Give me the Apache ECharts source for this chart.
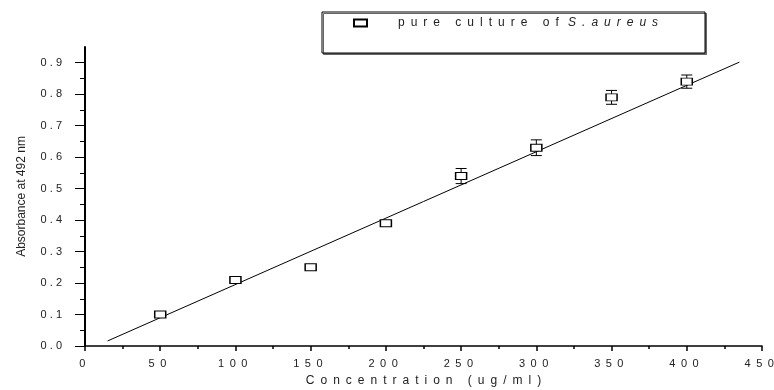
<!DOCTYPE html>
<html><head><meta charset="utf-8">
<script src="https://cdn.jsdelivr.net/npm/echarts@6/dist/echarts.min.js"></script>
<style>html,body{margin:0;padding:0;background:#fff}#c{width:774px;height:390px}</style>
</head><body><div id="c"></div>
<script>
const concentrations = [50, 100, 150, 200, 250, 300, 350, 400];
const absorbance = [0.10, 0.21, 0.25, 0.39, 0.54, 0.63, 0.79, 0.84];
const errors = [0.004, 0.005, 0.004, 0.008, 0.024, 0.025, 0.022, 0.021];
const fitX = [15, 435];
const fitY = [0.016, 0.902];
const xTicks = [0, 50, 100, 150, 200, 250, 300, 350, 400, 450];
const yTicks = [0, 0.1, 0.2, 0.3, 0.4, 0.5, 0.6, 0.7, 0.8, 0.9];
const legendPlain = 'pure culture of ';
const legendItalic = 'S.aureus';
const legendName = legendPlain + legendItalic;
const xName = 'Concentration (ug/ml)';
const yName = 'Absorbance at 492 nm';

const EN = '\u2002';
function spaced(s, sep) { return s.split('').join(sep || ' '); }
const FONT = 'Liberation Sans, Arial, sans-serif';
const TXT = '#222';

const chart = echarts.init(document.getElementById('c'));
chart.setOption({
  animation: false,
  backgroundColor: '#fff',
  textStyle: { fontFamily: FONT },
  grid: { left: 85, right: 12, top: 47, bottom: 44, containLabel: false, outerBoundsMode: 'none' },
  graphic: [{
    type: 'rect', z: 0,
    shape: { x: 322, y: 12, width: 383, height: 41 },
    style: { fill: '#fff', stroke: '#000', lineWidth: 1, shadowColor: '#666', shadowOffsetX: 1.5, shadowOffsetY: 1.5, shadowBlur: 0 }
  }],
  legend: {
    left: 353, top: 17, itemWidth: 13, itemHeight: 7, padding: 0,
    data: [{ name: legendName, icon: 'rect' }],
    formatter: () => '{n|' + spaced(legendPlain, EN) + '}{i|' + spaced(legendItalic, EN) + '}',
    textStyle: {
      fontFamily: FONT, fontSize: 12, color: TXT,
      rich: {
        n: { fontFamily: FONT, fontSize: 12, color: TXT, padding: [0, 0, 0, 26] },
        i: { fontFamily: FONT, fontSize: 12, color: TXT, fontStyle: 'italic' }
      }
    }
  },
  xAxis: {
    type: 'value', min: 0, max: 450, interval: 50,
    name: spaced(xName, EN), nameLocation: 'middle', nameGap: 29,
    nameTextStyle: { fontFamily: FONT, fontSize: 12, color: TXT },
    axisLine: { show: true, onZero: false, lineStyle: { color: '#000', width: 1.5 } },
    axisTick: { show: true, length: 5, lineStyle: { color: '#000', width: 1.5 } },
    minorTick: { show: true, splitNumber: 2, length: 3, lineStyle: { color: '#000', width: 1.5 } },
    splitLine: { show: false },
    axisLabel: { formatter: v => spaced(String(v), EN) + EN, fontSize: 11, color: TXT, margin: 12, fontFamily: FONT }
  },
  yAxis: {
    type: 'value', min: 0, max: 0.95, interval: 0.1,
    name: yName, nameLocation: 'middle', nameGap: 57, nameRotate: 90,
    nameTextStyle: { fontFamily: FONT, fontSize: 12, color: TXT },
    axisLine: { show: true, onZero: false, lineStyle: { color: '#000', width: 2 } },
    axisTick: { show: true, length: 10, lineStyle: { color: '#000', width: 1 }, customValues: yTicks },
    minorTick: { show: true, splitNumber: 2, length: 5, lineStyle: { color: '#000', width: 1 } },
    splitLine: { show: false },
    axisLabel: { showMaxLabel: false, formatter: v => spaced(v.toFixed(1)), fontSize: 11, color: TXT, margin: 23, fontFamily: FONT }
  },
  series: [
    {
      type: 'line', name: 'fit', data: fitX.map((x, i) => [x, fitY[i]]),
      symbol: 'none', lineStyle: { color: '#000', width: 1 }, z: 2, silent: true
    },
    {
      type: 'custom', name: 'err', z: 3,
      data: concentrations.map((x, i) => [x, absorbance[i] - errors[i], absorbance[i] + errors[i]]),
      renderItem: (params, api) => {
        const lo = api.coord([api.value(0), api.value(1)]);
        const hi = api.coord([api.value(0), api.value(2)]);
        const w = 5.5;
        const st = { stroke: '#000', lineWidth: 1 };
        return { type: 'group', children: [
          { type: 'line', shape: { x1: lo[0], y1: lo[1], x2: hi[0], y2: hi[1] }, style: st },
          { type: 'line', shape: { x1: lo[0] - w, y1: lo[1], x2: lo[0] + w, y2: lo[1] }, style: st },
          { type: 'line', shape: { x1: hi[0] - w, y1: hi[1], x2: hi[0] + w, y2: hi[1] }, style: st }
        ]};
      }
    },
    {
      type: 'scatter', name: legendName, z: 4,
      data: concentrations.map((x, i) => [x, absorbance[i]]),
      symbol: 'rect', symbolSize: [11, 7],
      itemStyle: { color: '#fff', borderColor: '#000', borderWidth: 1.2, opacity: 1 }
    }
  ]
});
</script></body></html>
